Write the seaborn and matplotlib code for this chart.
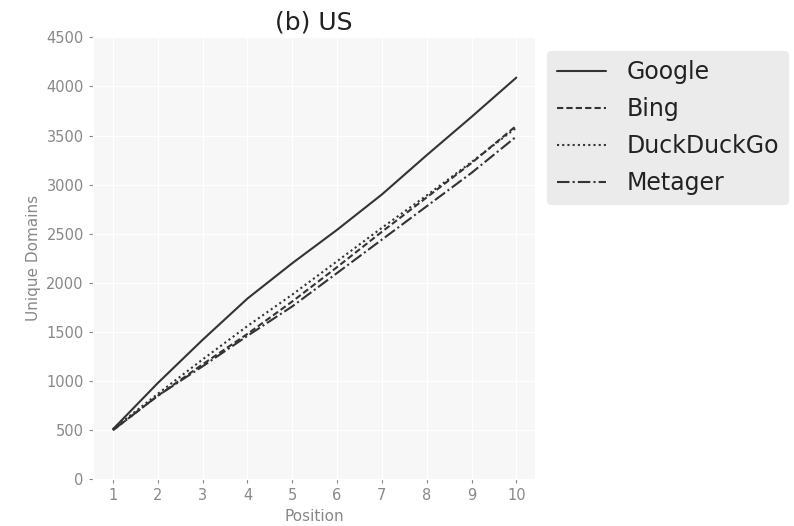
import pandas as pd
import matplotlib
matplotlib.use("Agg")
import matplotlib.pyplot as plt
import seaborn as sns

# values
positions = [1, 2, 3, 4, 5, 6, 7, 8, 9, 10]
google = [510, 980, 1420, 1840, 2200, 2540, 2900, 3300, 3690, 4090]
bing = [500, 850, 1170, 1480, 1810, 2160, 2520, 2870, 3220, 3600]
duckduckgo = [510, 870, 1220, 1560, 1880, 2220, 2560, 2890, 3230, 3580]
metager = [500, 850, 1150, 1460, 1760, 2100, 2440, 2780, 3120, 3490]
engines = ["Google", "Bing", "DuckDuckGo", "Metager"]

# long format for seaborn
rows = []
for name, vals in zip(engines, [google, bing, duckduckgo, metager]):
    for p, v in zip(positions, vals):
        rows.append({"Position": p, "Unique Domains": v, "engine": name})
df = pd.DataFrame(rows)

sns.set_style("darkgrid", {
    "axes.facecolor": "#f7f7f7",
    "grid.color": "white",
    "xtick.bottom": True,
    "ytick.left": True,
})
plt.rcParams["font.family"] = ["DejaVu Sans"]
plt.rcParams["xtick.color"] = "#888888"
plt.rcParams["ytick.color"] = "#888888"
plt.rcParams["xtick.major.size"] = 3
plt.rcParams["ytick.major.size"] = 3

fig = plt.figure(figsize=(7.94, 5.26), dpi=100)
ax = fig.add_axes([0.117, 0.089, 0.557, 0.84])

dashes = {"Google": "", "Bing": (3, 1.5), "DuckDuckGo": (1, 1.5), "Metager": (6, 1.5, 1, 1.5)}
sns.lineplot(data=df, x="Position", y="Unique Domains", style="engine",
             dashes=dashes, color="#333333", linewidth=1.5, ax=ax)

ax.set_xlim(0.55, 10.42)
ax.set_ylim(0, 4500)
ax.set_xticks(positions)
ax.set_yticks(range(0, 4501, 500))
ax.tick_params(labelsize=10.5, colors="#888888")
ax.set_xlabel("Position", fontsize=11, color="#888888")
ax.set_ylabel("Unique Domains", fontsize=11, color="#888888")
ax.set_title("(b) US", fontsize=18, color="#222222")

leg = ax.legend(loc="upper left", bbox_to_anchor=(1.027, 0.97), borderaxespad=0,
                fontsize=17, facecolor="#ebebeb", edgecolor="#ebebeb",
                framealpha=1, handlelength=2.1, handletextpad=0.85,
                labelspacing=0.55)
for t in leg.get_texts():
    t.set_color("#222222")

plt.savefig("out.png", dpi=100)
